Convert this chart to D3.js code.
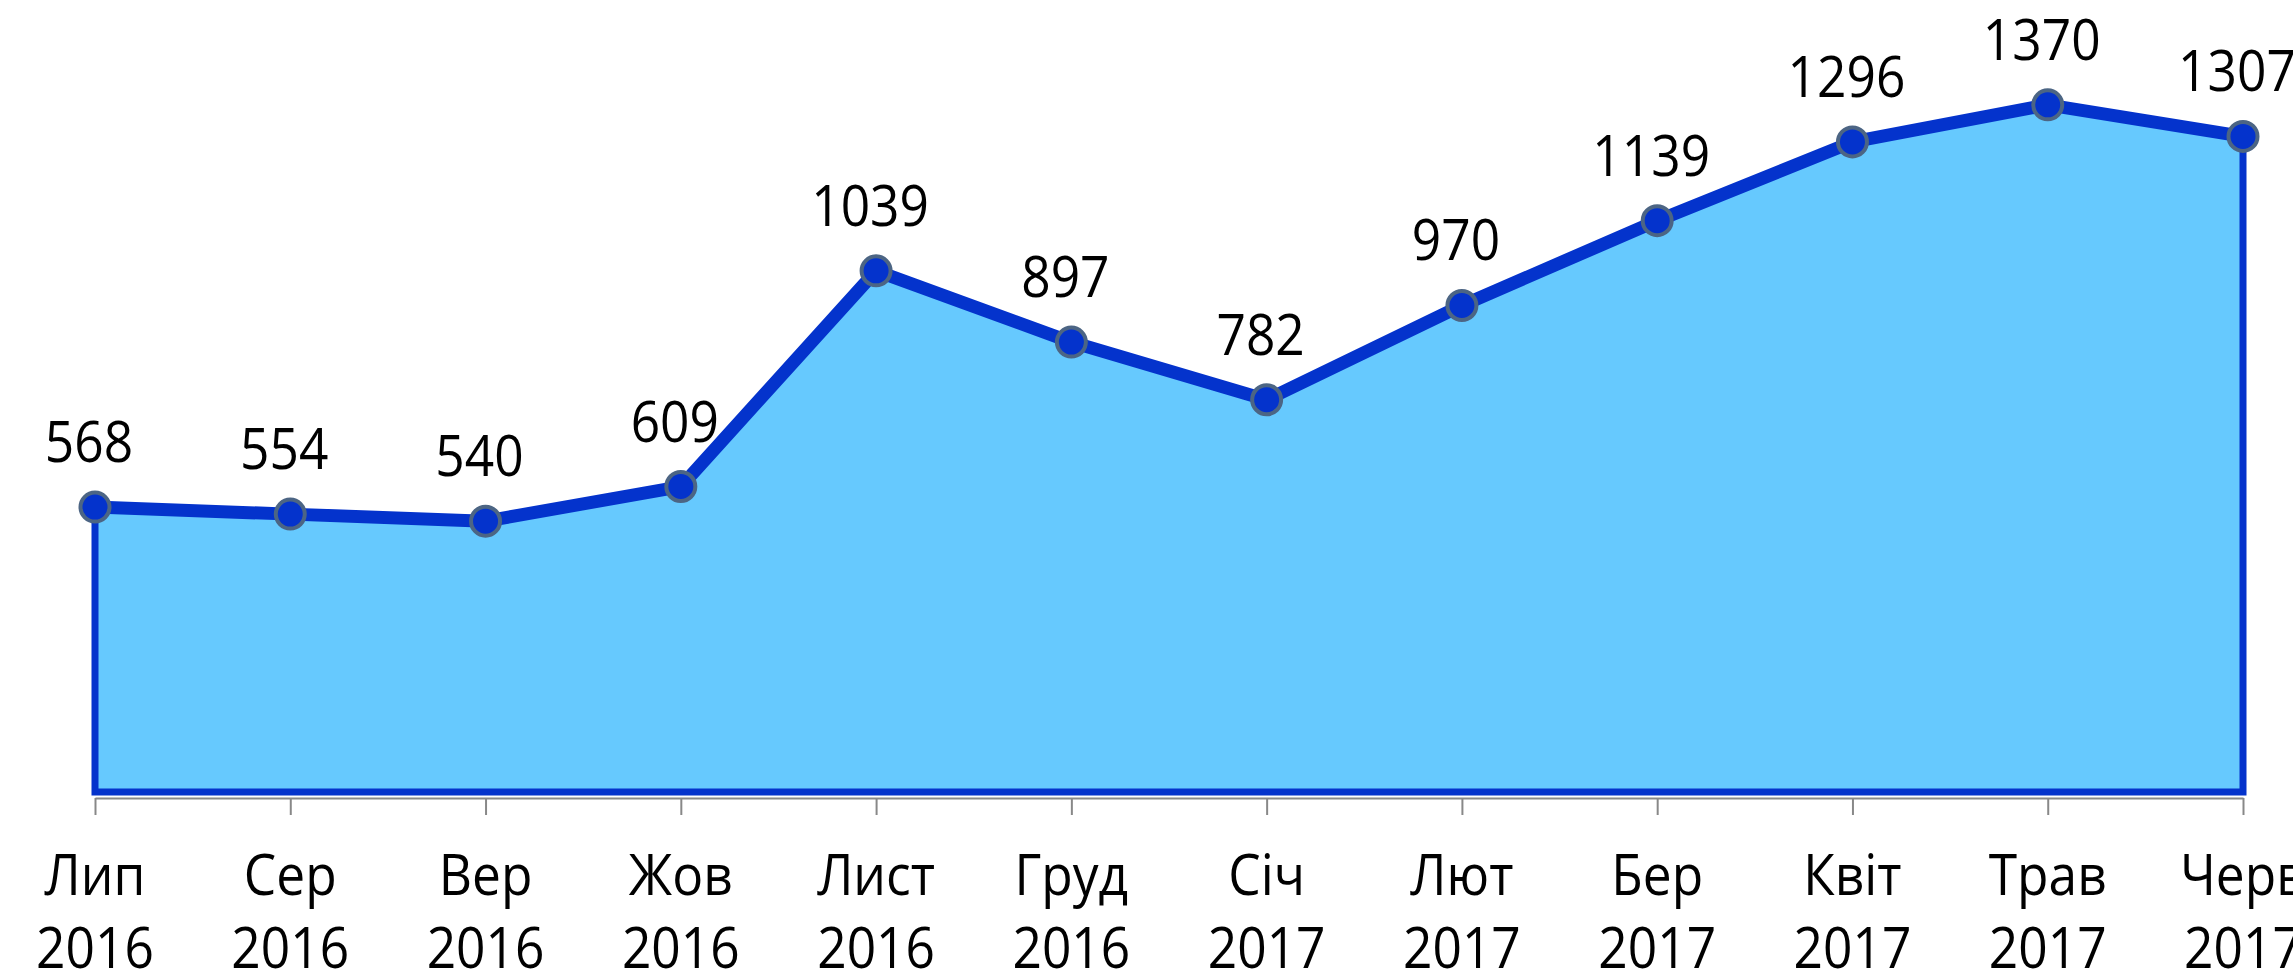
<!DOCTYPE html>
<html>
<head>
<meta charset="utf-8">
<script src="https://cdn.jsdelivr.net/npm/d3@7"></script>
<style>
  body { margin: 0; background: #fff; }
  text { font-family: "Open Sans", "Noto Sans", sans-serif; fill: #000; }
</style>
</head>
<body>
<script>
// data
const months = ["Лип", "Сер", "Вер", "Жов", "Лист", "Груд", "Січ", "Лют", "Бер", "Квіт", "Трав", "Черв"];
const years = ["2016", "2016", "2016", "2016", "2016", "2016", "2017", "2017", "2017", "2017", "2017", "2017"];
const values = [568, 554, 540, 609, 1039, 897, 782, 970, 1139, 1296, 1370, 1307];

const data = months.map((m, i) => ({key: m + " " + years[i], month: m, year: years[i], value: values[i]}));

// dimensions
const width = 2293, height = 969;
const baseY = 792;

const svg = d3.select("body")
  .append("svg")
    .attr("width", width)
    .attr("height", height);

const x = d3.scalePoint()
    .domain(data.map(d => d.key))
    .range([95, 2243]);

const y = d3.scaleLinear()
    .domain([0, 1579])
    .range([baseY, 0]);

const blue = "#0433cc";

// area
const area = d3.area()
    .x(d => x(d.key))
    .y0(y(0))
    .y1(d => y(d.value));

svg.append("path")
    .datum(data)
    .attr("d", area)
    .attr("fill", "#66c9fe")
    .attr("stroke", blue)
    .attr("stroke-width", 7)
    .attr("stroke-linejoin", "miter");

// x axis
const axis = svg.append("g")
    .attr("transform", "translate(0," + (baseY + 6) + ")")
    .call(d3.axisBottom(x).tickSize(17).tickFormat("").tickSizeOuter(0));
axis.select(".domain").attr("stroke", "#888").attr("stroke-width", 2);
axis.selectAll(".tick line").attr("stroke", "#888").attr("stroke-width", 2);

// top line
const line = d3.line()
    .x(d => x(d.key))
    .y(d => y(d.value));

svg.append("path")
    .datum(data)
    .attr("d", line)
    .attr("fill", "none")
    .attr("stroke", blue)
    .attr("stroke-width", 13)
    .attr("stroke-linejoin", "round");

// markers
svg.selectAll(".dot")
  .data(data)
  .enter()
  .append("circle")
    .attr("cx", d => x(d.key))
    .attr("cy", d => y(d.value))
    .attr("r", 14.5)
    .attr("fill", blue)
    .attr("stroke", "#4c6584")
    .attr("stroke-width", 4);

// value labels
svg.selectAll(".val")
  .data(data)
  .enter()
  .append("text")
    .attr("transform", d => `translate(${x(d.key) - 6},${y(d.value) - 45}) scale(0.92,1)`)
    .attr("text-anchor", "middle")
    .attr("font-size", "56px")
    .text(d => d.value);

// category labels (two lines)
const lab = svg.selectAll(".lab")
  .data(data)
  .enter()
  .append("g")
    .attr("transform", d => `translate(${x(d.key)},0) scale(0.92,1)`);

lab.append("text")
    .attr("y", 895)
    .attr("text-anchor", "middle")
    .attr("font-size", "56px")
    .text(d => d.month);

lab.append("text")
    .attr("y", 968)
    .attr("text-anchor", "middle")
    .attr("font-size", "56px")
    .text(d => d.year);
</script>
</body>
</html>
